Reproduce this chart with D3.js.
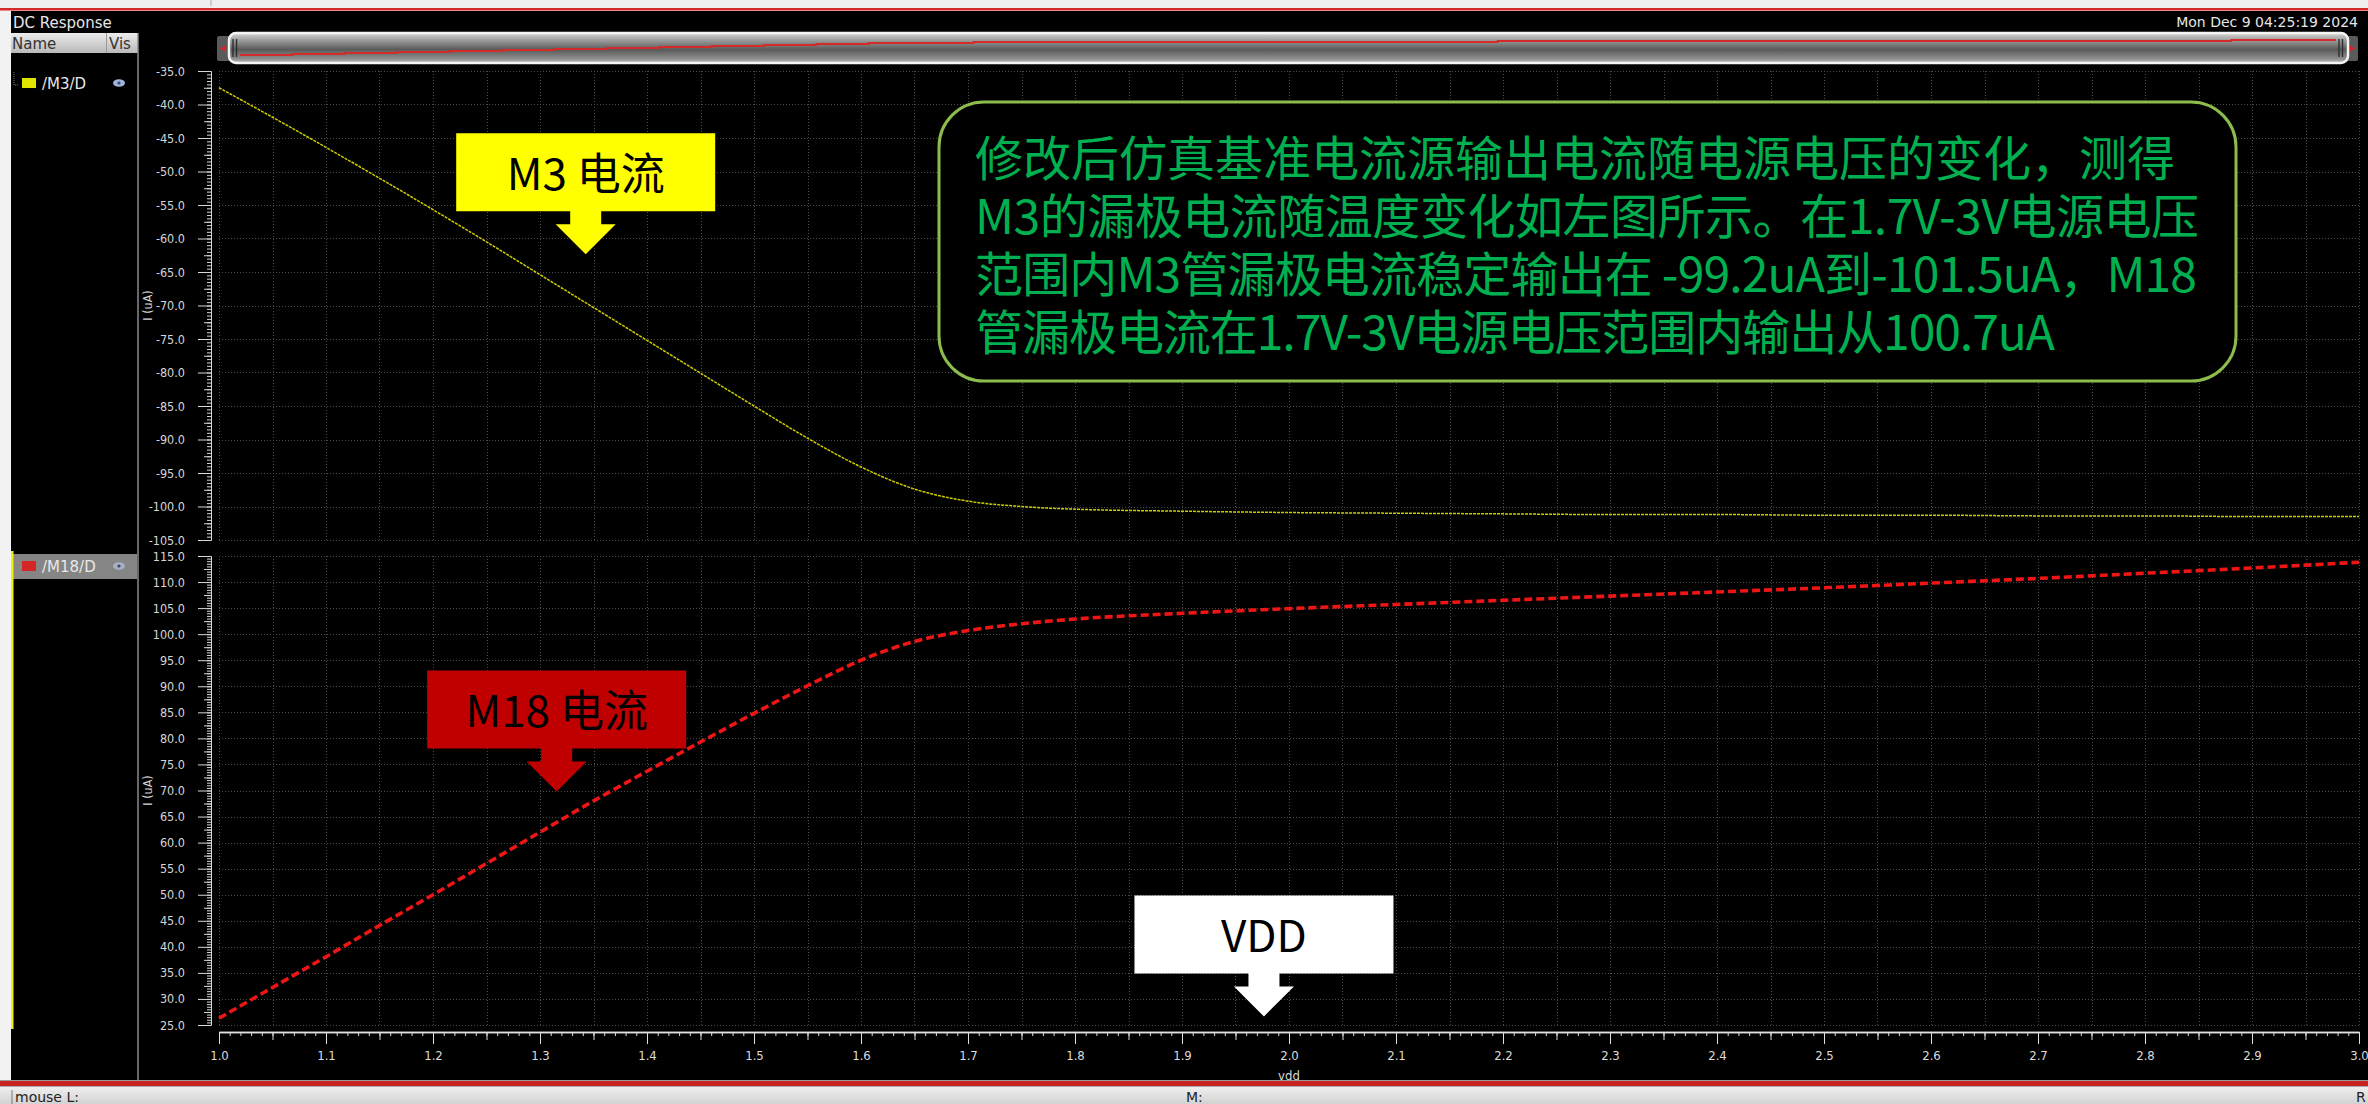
<!DOCTYPE html>
<html>
<head>
<meta charset="utf-8">
<script src="https://cdn.jsdelivr.net/npm/d3@7"></script>
<style>
  html, body { margin: 0; padding: 0; background: #000; overflow: hidden; }
  svg { display: block; }
  .tick text { font-family: "DejaVu Sans Condensed", "DejaVu Sans", sans-serif; }
</style>
</head>
<body>
<svg id="chart" width="2368" height="1104"></svg>
<script>
// ---- DC sweep data: drain currents versus supply voltage ----
const vdd = [1.00, 1.05, 1.10, 1.15, 1.20, 1.25, 1.30, 1.35, 1.40, 1.45, 1.50, 1.55, 1.60, 1.65,
             1.70, 1.75, 1.80, 1.90, 2.00, 2.10, 2.20, 2.30, 2.40, 2.50, 2.60, 2.70, 2.80, 2.90, 3.00];
const m3Current = [-37.5, -41.9, -46.4, -51.0, -55.7, -60.5, -65.4, -70.3, -75.2, -80.1, -85.0, -89.8,
                   -94.1, -97.4, -99.2, -100.0, -100.4, -100.7, -100.9, -101.0, -101.1, -101.2, -101.2,
                   -101.3, -101.3, -101.4, -101.4, -101.5, -101.5];
const m18Current = [26.3, 32.2, 38.1, 44.1, 50.0, 56.0, 62.0, 68.0, 73.7, 79.3, 84.8, 90.1, 95.0, 98.6,
                    100.7, 102.0, 102.9, 104.0, 104.9, 105.7, 106.5, 107.3, 108.1, 108.9, 109.8, 110.7,
                    111.7, 112.7, 113.8];

// ---- axis tick values ----
const xTickValues = d3.range(10, 31).map(d => d / 10);          // 1.0 … 3.0
const topTickValues = d3.range(-35, -106, -5);                   // -35.0 … -105.0
const bottomTickValues = d3.range(115, 24, -5);                  // 115.0 … 25.0

// ---- series / legend names and annotation texts ----
const seriesNames = ["/M3/D", "/M18/D"];
const noteLines = [
  "修改后仿真基准电流源输出电流随电源电压的变化，测得",
  "M3的漏极电流随温度变化如左图所示。在1.7V-3V电源电压",
  "范围内M3管漏极电流稳定输出在 -99.2uA到-101.5uA，M18",
  "管漏极电流在1.7V-3V电源电压范围内输出从100.7uA"
];
const noteLineWidths = [1200, 1224, 1222, 1080];

const W = 2368, H = 1104;
const svg = d3.select("#chart");
const defs = svg.append("defs");

// scales for the two stacked strips sharing one vdd axis
const x = d3.scaleLinear().domain([1, 3]).range([219, 2359]);
const yTop = d3.scaleLinear().domain([-105, -35]).range([540, 71]);
const yBot = d3.scaleLinear().domain([25, 115]).range([1025, 556]);

const uiFont = "'DejaVu Sans', sans-serif";
const cjkFont = "'Noto Sans CJK SC', 'Noto Sans', sans-serif";

// ---------- window chrome ----------
svg.append("rect").attr("width", W).attr("height", H).attr("fill", "#000");
svg.append("rect").attr("x", 0).attr("y", 0).attr("width", W).attr("height", 8).attr("fill", "#efefef");
svg.append("line").attr("x1", 211).attr("x2", 211).attr("y1", 0).attr("y2", 6).attr("stroke", "#aaa");
svg.append("rect").attr("x", 0).attr("y", 8).attr("width", W).attr("height", 2).attr("fill", "#d42a2a");
svg.append("rect").attr("x", 0).attr("y", 10).attr("width", W).attr("height", 1).attr("fill", "#e88");
svg.append("rect").attr("x", 0).attr("y", 11).attr("width", 11).attr("height", 1070).attr("fill", "#f2f2f2");

svg.append("text").attr("x", 13).attr("y", 28).text("DC Response")
  .attr("font-family", uiFont).attr("font-size", 15).attr("fill", "#e6e6e6");
svg.append("text").attr("x", 2358).attr("y", 27).attr("text-anchor", "end")
  .text("Mon Dec 9 04:25:19 2024")
  .attr("font-family", uiFont).attr("font-size", 14).attr("fill", "#e6e6e6");

// ---------- signal list panel ----------
const hdrGrad = defs.append("linearGradient").attr("id", "hdrGrad").attr("x1", 0).attr("x2", 0).attr("y1", 0).attr("y2", 1);
hdrGrad.append("stop").attr("offset", 0).attr("stop-color", "#ececec");
hdrGrad.append("stop").attr("offset", 1).attr("stop-color", "#b9b9b9");
svg.append("rect").attr("x", 11).attr("y", 33).attr("width", 127).attr("height", 20).attr("fill", "url(#hdrGrad)");
svg.append("line").attr("x1", 106.5).attr("x2", 106.5).attr("y1", 33).attr("y2", 53).attr("stroke", "#999");
svg.append("text").attr("x", 12).attr("y", 49).text("Name")
  .attr("font-family", uiFont).attr("font-size", 15).attr("fill", "#333");
svg.append("text").attr("x", 109).attr("y", 49).text("Vis")
  .attr("font-family", uiFont).attr("font-size", 15).attr("fill", "#333");
svg.append("line").attr("x1", 138).attr("x2", 138).attr("y1", 33).attr("y2", 1080).attr("stroke", "#8a8a8a").attr("stroke-width", 1.5);

// tree connector of the first entry
svg.append("path").attr("d", "M14,72V85H19").attr("fill", "none")
  .attr("stroke", "#777").attr("stroke-dasharray", "1,1");

// highlighted second entry and its selection bar
svg.append("rect").attr("x", 12).attr("y", 554).attr("width", 125).attr("height", 25).attr("fill", "#858585");
svg.append("rect").attr("x", 11).attr("y", 551).attr("width", 2.5).attr("height", 478).attr("fill", "#f2f200");

const legendRows = [
  { name: seriesNames[0], y: 83, color: "#e3e300", eye: "#9fb4dc" },
  { name: seriesNames[1], y: 566, color: "#d42424", eye: "#a5b0c4" }
];
legendRows.forEach(r => {
  svg.append("rect").attr("x", 22).attr("y", r.y - 5).attr("width", 14).attr("height", 10).attr("fill", r.color);
  svg.append("text").attr("x", 42).attr("y", r.y + 6).text(r.name)
    .attr("font-family", uiFont).attr("font-size", 15).attr("fill", "#e8e8e8");
  svg.append("ellipse").attr("cx", 119).attr("cy", r.y).attr("rx", 6).attr("ry", 3.8).attr("fill", r.eye);
  svg.append("circle").attr("cx", 119).attr("cy", r.y).attr("r", 1.6).attr("fill", "#3a4866");
});

// ---------- overview scroll bar ----------
const barGrad = defs.append("linearGradient").attr("id", "barGrad").attr("x1", 0).attr("x2", 0).attr("y1", 0).attr("y2", 1);
[["0", "#d8d8d8"], ["0.25", "#9a9a9a"], ["0.55", "#5a5a5a"], ["0.85", "#8c8c8c"], ["1", "#bdbdbd"]]
  .forEach(([o, c]) => barGrad.append("stop").attr("offset", o).attr("stop-color", c));
svg.append("rect").attr("x", 217).attr("y", 36).attr("width", 14).attr("height", 25).attr("rx", 2).attr("fill", "#5a5a5a");
svg.append("rect").attr("x", 2344).attr("y", 36).attr("width", 14).attr("height", 25).attr("rx", 2).attr("fill", "#5a5a5a");
svg.append("path").attr("d", "M220,48.5l5,-3v6z").attr("fill", "#e02020");
svg.append("path").attr("d", "M2355,48.5l-5,-3v6z").attr("fill", "#e02020");
svg.append("rect").attr("x", 229).attr("y", 33).attr("width", 2119).attr("height", 30).attr("rx", 7)
  .attr("fill", "url(#barGrad)").attr("stroke", "#f4f4f4").attr("stroke-width", 2.5);
[233, 236.5, 2339, 2342.5].forEach(hx => {
  svg.append("line").attr("x1", hx).attr("x2", hx).attr("y1", 39).attr("y2", 57).attr("stroke", "#2a2a2a").attr("stroke-width", 1.3);
});
const sx = d3.scaleLinear().domain([1, 3]).range([240, 2336]);
const sy = d3.scaleLinear().domain([25, 115]).range([55, 40]);
svg.append("path").datum(vdd.map((v, i) => [v, m18Current[i]]))
  .attr("d", d3.line().x(d => sx(d[0])).y(d => Math.round(sy(d[1]))).curve(d3.curveStepAfter))
  .attr("fill", "none").attr("stroke", "#d42a2a").attr("stroke-width", 1.8);

// ---------- grids ----------
const gridX = d3.range(20, 61).map(d => d / 20);   // every 0.05 V
function drawGrid(yScale, ticks) {
  const g = svg.append("g").attr("stroke", "#4a4a4a").attr("stroke-width", 1).attr("stroke-dasharray", "1,2");
  const [y0, y1] = yScale.range();
  g.selectAll(".gv").data(gridX).join("line")
    .attr("x1", d => Math.round(x(d)) + 0.5).attr("x2", d => Math.round(x(d)) + 0.5)
    .attr("y1", y1).attr("y2", y0);
  g.selectAll(".gh").data(ticks).join("line")
    .attr("x1", x.range()[0]).attr("x2", x.range()[1])
    .attr("y1", d => Math.round(yScale(d)) + 0.5).attr("y2", d => Math.round(yScale(d)) + 0.5);
}
drawGrid(yTop, topTickValues);
drawGrid(yBot, bottomTickValues);

// ---------- vertical rulers ----------
function drawRuler(yScale, majors, title) {
  const [lo, hi] = yScale.domain();
  const minor = d3.range(lo, hi + 0.001, 0.5);
  const mid = d3.range(lo + 2.5, hi, 5);
  const mk = (vals, size) => svg.append("g").attr("transform", "translate(211,0)")
    .call(d3.axisLeft(yScale).tickValues(vals).tickSize(size).tickSizeOuter(0).tickFormat(""))
    .call(g => g.selectAll("line").attr("stroke", "#d8d8d8"))
    .call(g => g.select(".domain").attr("stroke", "#d8d8d8"));
  mk(minor, 4);
  mk(mid, 7);
  svg.append("g").attr("transform", "translate(211,0)")
    .call(d3.axisLeft(yScale).tickValues(majors).tickSize(13).tickSizeOuter(0).tickPadding(13)
      .tickFormat(d => d.toFixed(1)))
    .call(g => g.select(".domain").remove())
    .call(g => g.selectAll("line").attr("stroke", "#d8d8d8"))
    .call(g => g.selectAll("text").attr("fill", "#d6d6d6").attr("font-size", 12.5));
  const [r0, r1] = yScale.range();
  svg.append("text").attr("transform", `translate(152,${(r0 + r1) / 2}) rotate(-90)`)
    .attr("text-anchor", "middle").text(title)
    .attr("font-family", "'DejaVu Sans Condensed', 'DejaVu Sans', sans-serif")
    .attr("font-size", 12.5).attr("fill", "#d6d6d6");
}
drawRuler(yTop, topTickValues, "I (uA)");
drawRuler(yBot, bottomTickValues, "I (uA)");

// ---------- horizontal vdd ruler ----------
const xMinor = d3.range(100, 301).map(d => d / 100);
const xMid = d3.range(21, 61, 2).map(d => d / 20);
[[xMinor, 4], [xMid, 8]].forEach(([vals, size]) => {
  svg.append("g").attr("transform", "translate(0,1032)")
    .call(d3.axisBottom(x).tickValues(vals).tickSize(size).tickSizeOuter(0).tickFormat(""))
    .call(g => g.selectAll("line").attr("stroke", "#e0e0e0"))
    .call(g => g.select(".domain").attr("stroke", "#e0e0e0").attr("stroke-width", 1.5));
});
svg.append("g").attr("transform", "translate(0,1032)")
  .call(d3.axisBottom(x).tickValues(xTickValues).tickSize(12).tickPadding(7).tickFormat(d => d.toFixed(1)))
  .call(g => g.select(".domain").remove())
  .call(g => g.selectAll("line").attr("stroke", "#e0e0e0"))
  .call(g => g.selectAll("text").attr("fill", "#dcdcdc").attr("font-size", 13));
svg.append("text").attr("x", x(2)).attr("y", 1080).attr("text-anchor", "middle").text("vdd")
  .attr("font-family", "'DejaVu Sans Condensed', 'DejaVu Sans', sans-serif")
  .attr("font-size", 13).attr("fill", "#dcdcdc");

// ---------- traces ----------
const m3Line = d3.line().x((d, i) => x(vdd[i])).y(d => yTop(d)).curve(d3.curveMonotoneX);
const m18Line = d3.line().x((d, i) => x(vdd[i])).y(d => yBot(d)).curve(d3.curveMonotoneX);
svg.append("path").datum(m3Current).attr("d", m3Line)
  .attr("fill", "none").attr("stroke", "#cccc00").attr("stroke-width", 1.5).attr("stroke-dasharray", "3,1");
svg.append("path").datum(m18Current).attr("d", m18Line)
  .attr("fill", "none").attr("stroke", "#ee1515").attr("stroke-width", 3.6).attr("stroke-dasharray", "8,4");

// ---------- callouts ----------
function callout(cx, tipY, fill, label) {
  const g = svg.append("g");
  const top = tipY - 121;
  const p = d3.path();
  p.moveTo(cx - 129.5, top); p.lineTo(cx + 129.5, top); p.lineTo(cx + 129.5, top + 78);
  p.lineTo(cx + 15.5, top + 78); p.lineTo(cx + 15.5, top + 91); p.lineTo(cx + 30, top + 91);
  p.lineTo(cx, tipY); p.lineTo(cx - 30, top + 91); p.lineTo(cx - 15.5, top + 91);
  p.lineTo(cx - 15.5, top + 78); p.lineTo(cx - 129.5, top + 78); p.closePath();
  g.append("path").attr("d", p.toString()).attr("fill", fill);
  g.append("text").attr("x", cx).attr("y", top + 56.5).attr("text-anchor", "middle").text(label)
    .attr("font-family", cjkFont).attr("font-size", 44).attr("fill", "#000");
}
callout(x(1.3427), yTop(-62.35), "#ffff00", "M3 电流");
callout(x(1.3156), yBot(69.8), "#c00000", "M18 电流");
callout(x(1.9766), yBot(26.65), "#ffffff", "VDD");

// ---------- note box ----------
svg.append("rect").attr("x", 939).attr("y", 102).attr("width", 1297).attr("height", 279).attr("rx", 45)
  .attr("fill", "#000").attr("stroke", "#8cbc4c").attr("stroke-width", 3);
svg.append("g").selectAll("text").data(noteLines).join("text")
  .attr("x", 975).attr("y", (d, i) => 176 + 58 * i).text(d => d)
  .attr("textLength", (d, i) => noteLineWidths[i]).attr("lengthAdjust", "spacing")
  .attr("font-family", cjkFont).attr("font-size", 48).attr("fill", "#00b050");

// ---------- status bar ----------
svg.append("rect").attr("x", 0).attr("y", 1080).attr("width", W).attr("height", 1).attr("fill", "#999");
svg.append("rect").attr("x", 0).attr("y", 1081).attr("width", W).attr("height", 5).attr("fill", "#c82222");
svg.append("rect").attr("x", 0).attr("y", 1086).attr("width", W).attr("height", 1).attr("fill", "#aaa");
const stGrad = defs.append("linearGradient").attr("id", "stGrad").attr("x1", 0).attr("x2", 0).attr("y1", 0).attr("y2", 1);
stGrad.append("stop").attr("offset", 0).attr("stop-color", "#efefef");
stGrad.append("stop").attr("offset", 1).attr("stop-color", "#d2d2d2");
svg.append("rect").attr("x", 0).attr("y", 1087).attr("width", W).attr("height", 17).attr("fill", "url(#stGrad)");
svg.append("line").attr("x1", 12).attr("x2", 12).attr("y1", 1090).attr("y2", 1104).attr("stroke", "#777");
svg.append("text").attr("x", 15).attr("y", 1102).text("mouse L:")
  .attr("font-family", uiFont).attr("font-size", 14).attr("fill", "#222");
svg.append("text").attr("x", 1186).attr("y", 1102).text("M:")
  .attr("font-family", uiFont).attr("font-size", 14).attr("fill", "#222");
svg.append("text").attr("x", 2356).attr("y", 1102).text("R")
  .attr("font-family", uiFont).attr("font-size", 14).attr("fill", "#222");
</script>
</body>
</html>
